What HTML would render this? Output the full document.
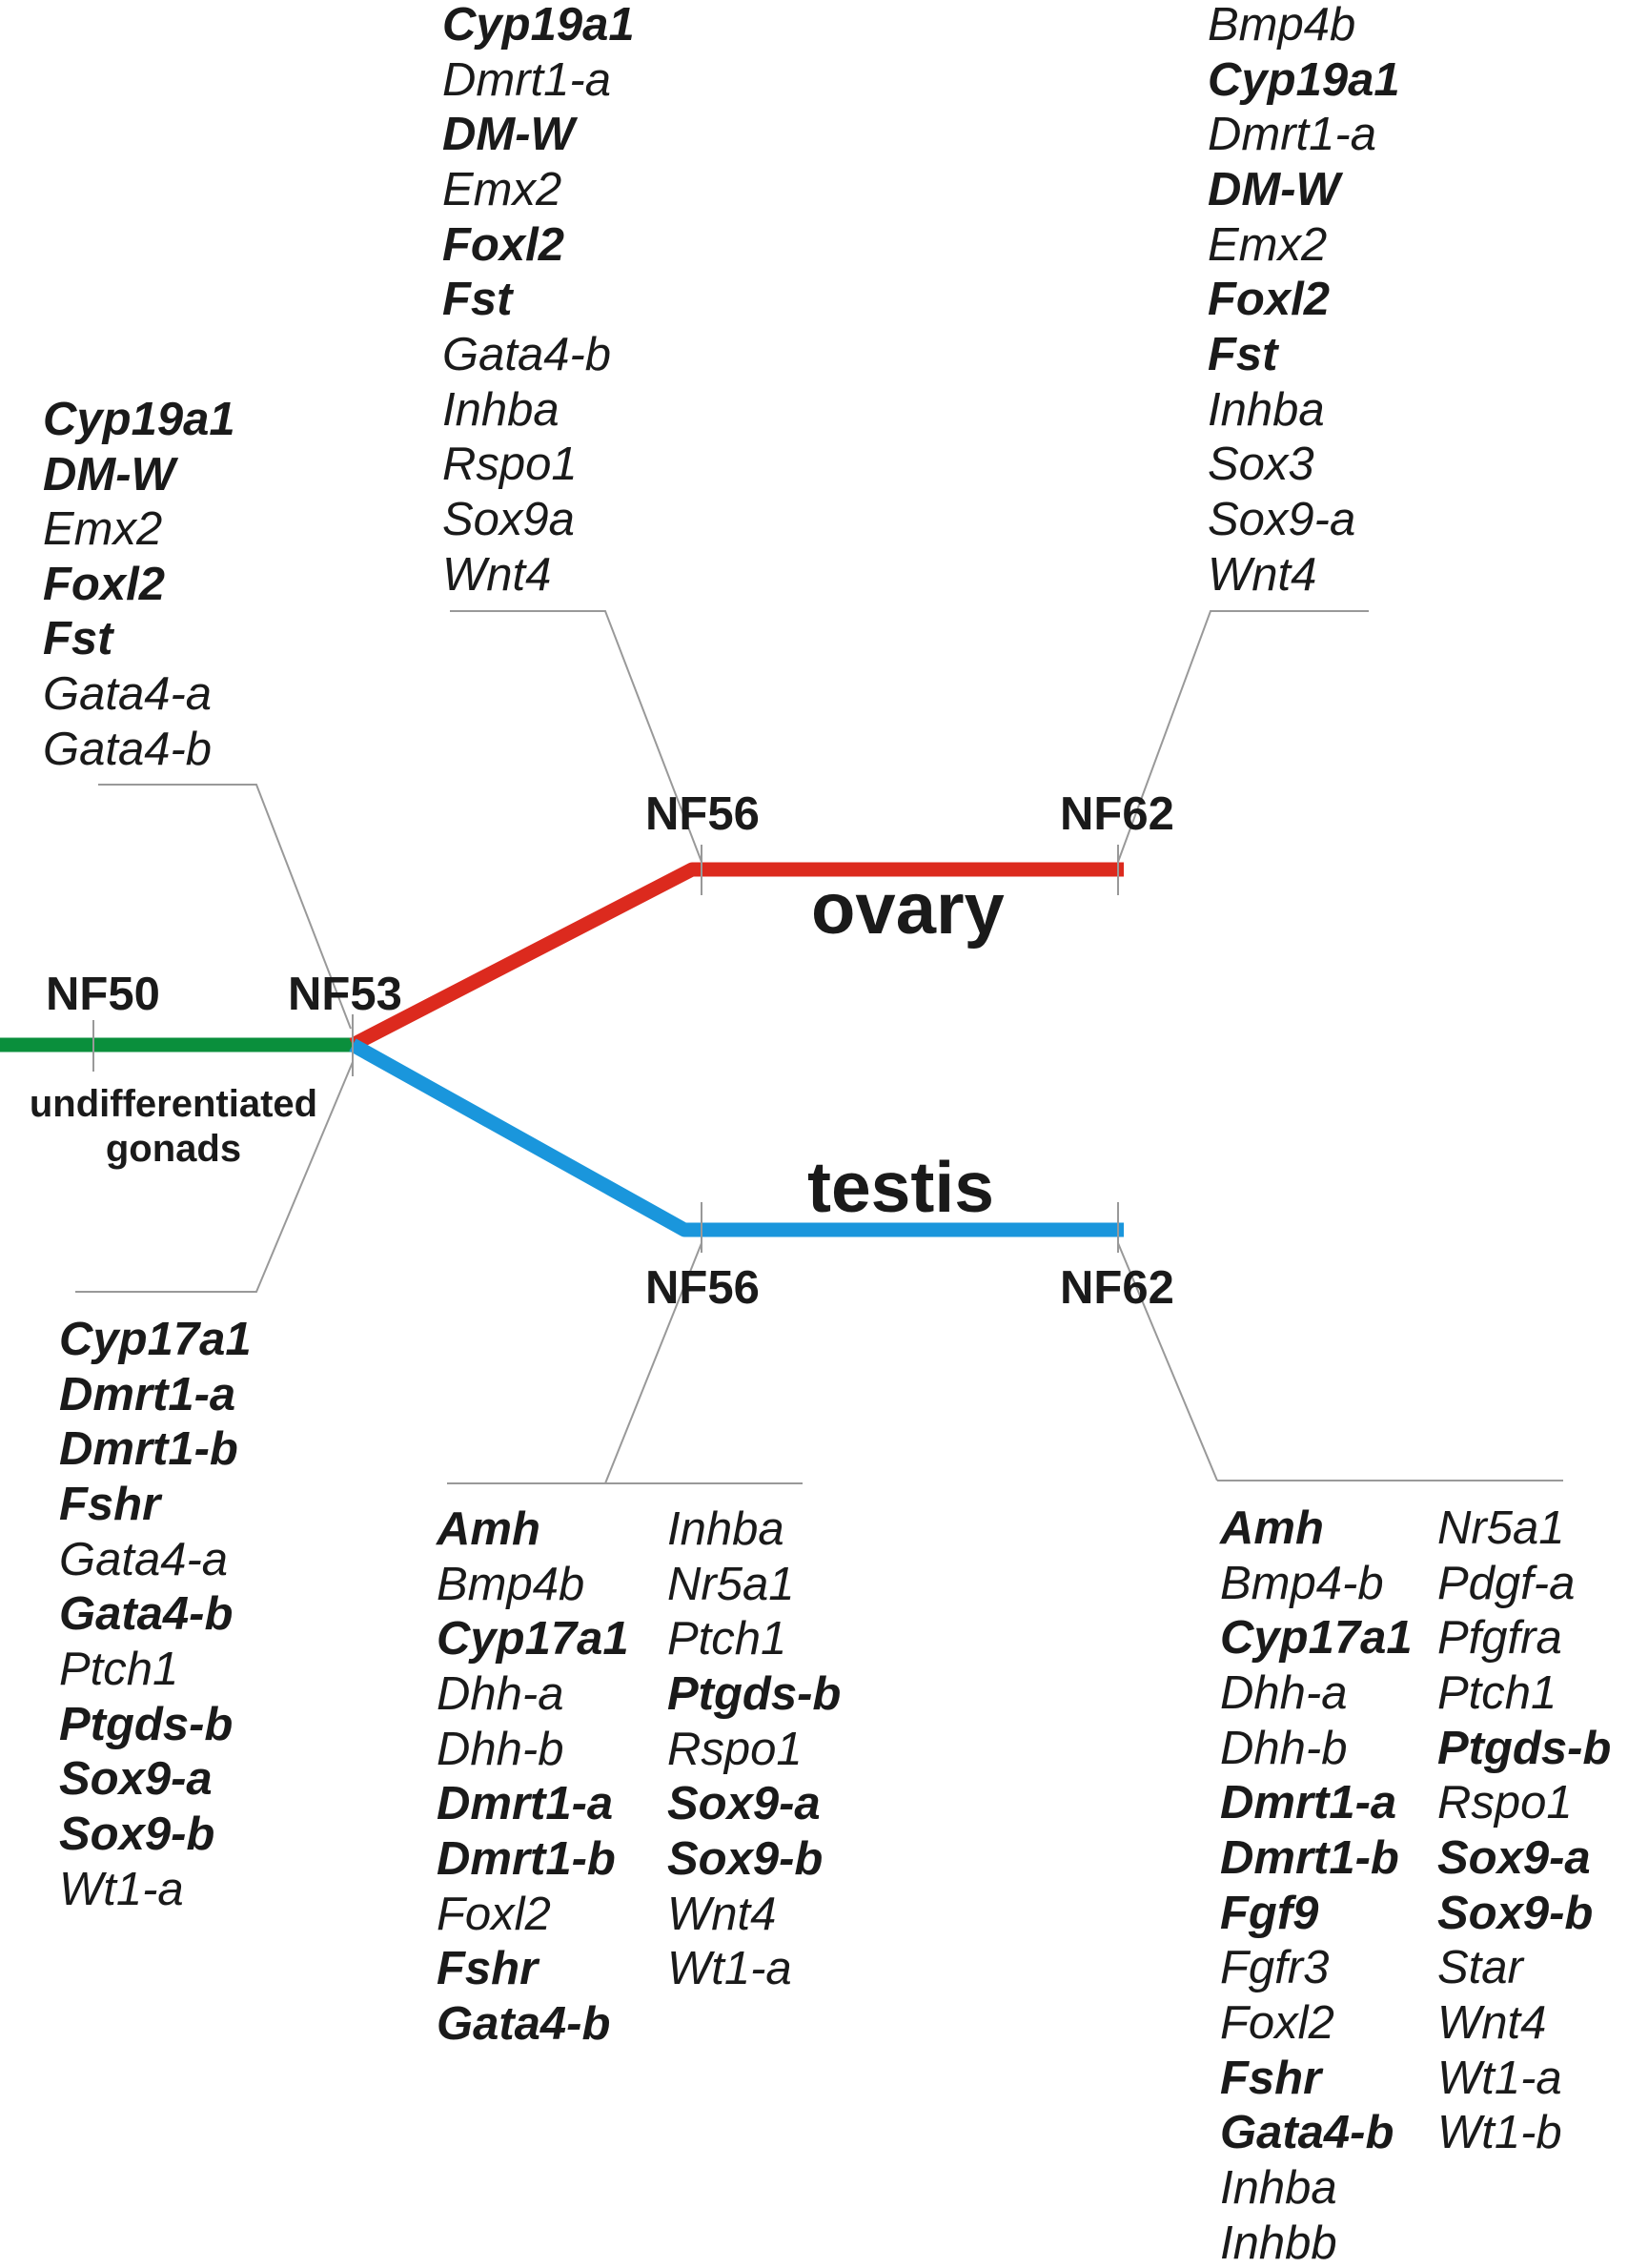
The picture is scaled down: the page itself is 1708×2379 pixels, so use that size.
<!DOCTYPE html>
<html><head><meta charset="utf-8"><style>
html,body{margin:0;padding:0;background:#fff}
svg{display:block}
text{font-family:"Liberation Sans",Arial,sans-serif;fill:#1a1a1a}
.g{font-size:49px;font-style:italic}
.b{font-weight:bold}
.nf{font-size:49px;font-weight:bold}
.c{stroke:#999;stroke-width:2;fill:none}
.t{stroke:#999;stroke-width:2}
</style></head><body>
<svg width="1708" height="2379" viewBox="0 0 1708 2379" xmlns="http://www.w3.org/2000/svg">
<g transform="translate(0,4)">
<polyline points="0,1092 370,1092" stroke="#0a8f3c" stroke-width="15" fill="none"/>
<polyline points="370,1092 726,908 1179,908" stroke="#dc2a1e" stroke-width="15" fill="none" stroke-linejoin="round"/>
<polyline points="370,1092 718,1286 1179,1286" stroke="#1a96dc" stroke-width="15" fill="none" stroke-linejoin="round"/>
<line class="t" x1="98" y1="1066" x2="98" y2="1120"/>
<line class="t" x1="370" y1="1060" x2="370" y2="1125"/>
<line class="t" x1="736" y1="882" x2="736" y2="935"/>
<line class="t" x1="1173" y1="882" x2="1173" y2="935"/>
<line class="t" x1="736" y1="1257" x2="736" y2="1310"/>
<line class="t" x1="1173" y1="1257" x2="1173" y2="1310"/>
<polyline class="c" points="103,819 269,819 368,1075"/>
<polyline class="c" points="79,1351 269,1351 370,1110"/>
<polyline class="c" points="472,637 635,637 736,900"/>
<polyline class="c" points="1436,637 1270,637 1173,900"/>
<line class="c" x1="469" y1="1552" x2="842" y2="1552"/>
<line class="c" x1="635" y1="1552" x2="736" y2="1300"/>
<line class="c" x1="1277" y1="1549" x2="1640" y2="1549"/>
<line class="c" x1="1277" y1="1549" x2="1173" y2="1300"/>
<text class="nf" x="48" y="1055">NF50</text>
<text class="nf" x="302" y="1055">NF53</text>
<text class="nf" x="677" y="866">NF56</text>
<text class="nf" x="1112" y="866">NF62</text>
<text class="nf" x="677" y="1363">NF56</text>
<text class="nf" x="1112" y="1363">NF62</text>
<text x="851" y="975" font-size="76" font-weight="bold">ovary</text>
<text x="847" y="1267" font-size="75" font-weight="bold">testis</text>
<text x="182" y="1167" font-size="40" font-weight="bold" text-anchor="middle">undifferentiated</text>
<text x="182" y="1214" font-size="40" font-weight="bold" text-anchor="middle">gonads</text>
</g>
<g class="g">
<text x="45" y="456" class="b">Cyp19a1</text>
<text x="45" y="514" class="b">DM-W</text>
<text x="45" y="571">Emx2</text>
<text x="45" y="629" class="b">Foxl2</text>
<text x="45" y="686" class="b">Fst</text>
<text x="45" y="744">Gata4-a</text>
<text x="45" y="802">Gata4-b</text>
</g>
<g class="g">
<text x="464" y="42" class="b">Cyp19a1</text>
<text x="464" y="100">Dmrt1-a</text>
<text x="464" y="157" class="b">DM-W</text>
<text x="464" y="215">Emx2</text>
<text x="464" y="273" class="b">Foxl2</text>
<text x="464" y="330" class="b">Fst</text>
<text x="464" y="388">Gata4-b</text>
<text x="464" y="446">Inhba</text>
<text x="464" y="503">Rspo1</text>
<text x="464" y="561">Sox9a</text>
<text x="464" y="619">Wnt4</text>
</g>
<g class="g">
<text x="1267" y="42">Bmp4b</text>
<text x="1267" y="100" class="b">Cyp19a1</text>
<text x="1267" y="157">Dmrt1-a</text>
<text x="1267" y="215" class="b">DM-W</text>
<text x="1267" y="273">Emx2</text>
<text x="1267" y="330" class="b">Foxl2</text>
<text x="1267" y="388" class="b">Fst</text>
<text x="1267" y="446">Inhba</text>
<text x="1267" y="503">Sox3</text>
<text x="1267" y="561">Sox9-a</text>
<text x="1267" y="619">Wnt4</text>
</g>
<g class="g" transform="translate(0,5)">
<text x="62" y="1416" class="b">Cyp17a1</text>
<text x="62" y="1474" class="b">Dmrt1-a</text>
<text x="62" y="1531" class="b">Dmrt1-b</text>
<text x="62" y="1589" class="b">Fshr</text>
<text x="62" y="1647">Gata4-a</text>
<text x="62" y="1704" class="b">Gata4-b</text>
<text x="62" y="1762">Ptch1</text>
<text x="62" y="1820" class="b">Ptgds-b</text>
<text x="62" y="1877" class="b">Sox9-a</text>
<text x="62" y="1935" class="b">Sox9-b</text>
<text x="62" y="1993">Wt1-a</text>
</g>
<g class="g" transform="translate(0,6)">
<text x="458" y="1614" class="b">Amh</text>
<text x="458" y="1672">Bmp4b</text>
<text x="458" y="1729" class="b">Cyp17a1</text>
<text x="458" y="1787">Dhh-a</text>
<text x="458" y="1845">Dhh-b</text>
<text x="458" y="1902" class="b">Dmrt1-a</text>
<text x="458" y="1960" class="b">Dmrt1-b</text>
<text x="458" y="2018">Foxl2</text>
<text x="458" y="2075" class="b">Fshr</text>
<text x="458" y="2133" class="b">Gata4-b</text>
<text x="700" y="1614">Inhba</text>
<text x="700" y="1672">Nr5a1</text>
<text x="700" y="1729">Ptch1</text>
<text x="700" y="1787" class="b">Ptgds-b</text>
<text x="700" y="1845">Rspo1</text>
<text x="700" y="1902" class="b">Sox9-a</text>
<text x="700" y="1960" class="b">Sox9-b</text>
<text x="700" y="2018">Wnt4</text>
<text x="700" y="2075">Wt1-a</text>
</g>
<g class="g" transform="translate(0,6)">
<text x="1280" y="1613" class="b">Amh</text>
<text x="1280" y="1671">Bmp4-b</text>
<text x="1280" y="1728" class="b">Cyp17a1</text>
<text x="1280" y="1786">Dhh-a</text>
<text x="1280" y="1844">Dhh-b</text>
<text x="1280" y="1901" class="b">Dmrt1-a</text>
<text x="1280" y="1959" class="b">Dmrt1-b</text>
<text x="1280" y="2017" class="b">Fgf9</text>
<text x="1280" y="2074">Fgfr3</text>
<text x="1280" y="2132">Foxl2</text>
<text x="1280" y="2190" class="b">Fshr</text>
<text x="1280" y="2247" class="b">Gata4-b</text>
<text x="1280" y="2305">Inhba</text>
<text x="1280" y="2363">Inhbb</text>
<text x="1508" y="1613">Nr5a1</text>
<text x="1508" y="1671">Pdgf-a</text>
<text x="1508" y="1728">Pfgfra</text>
<text x="1508" y="1786">Ptch1</text>
<text x="1508" y="1844" class="b">Ptgds-b</text>
<text x="1508" y="1901">Rspo1</text>
<text x="1508" y="1959" class="b">Sox9-a</text>
<text x="1508" y="2017" class="b">Sox9-b</text>
<text x="1508" y="2074">Star</text>
<text x="1508" y="2132">Wnt4</text>
<text x="1508" y="2190">Wt1-a</text>
<text x="1508" y="2247">Wt1-b</text>
</g>
</svg>
</body></html>
